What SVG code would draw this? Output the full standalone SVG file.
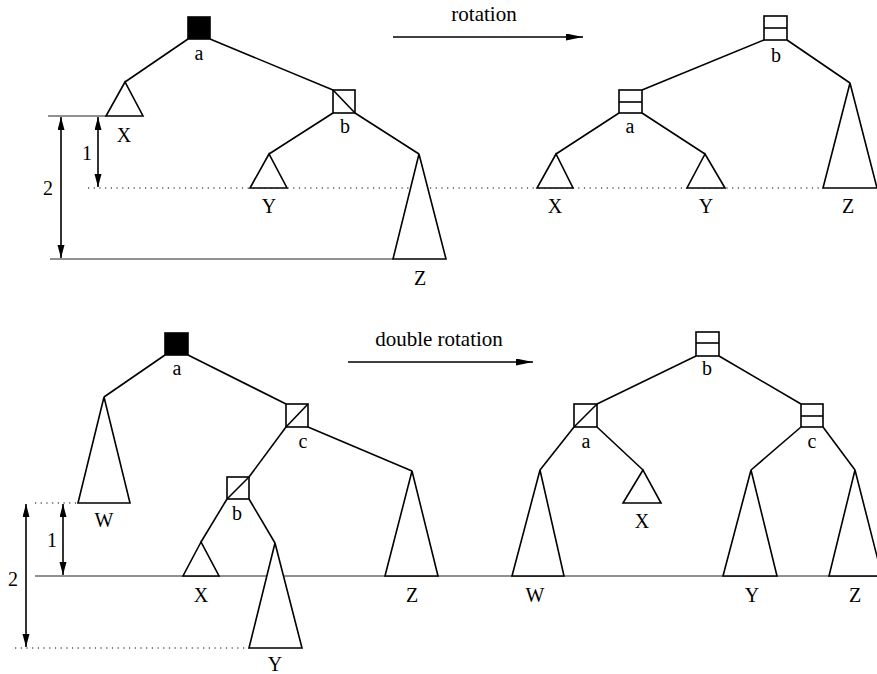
<svg xmlns="http://www.w3.org/2000/svg" width="877" height="674" viewBox="0 0 877 674">
<defs>
<style>
.e{stroke:#000;stroke-width:1.6;fill:none}
.t{fill:#fff;stroke:#000;stroke-width:1.6;stroke-linejoin:miter}
.n{fill:#fff;stroke:#000;stroke-width:1.6}
.k{fill:#000;stroke:#000;stroke-width:1.6}
.d{stroke:#000;stroke-width:1.6;fill:none}
.lbl{font-family:"Liberation Serif","Times New Roman",serif;font-size:20px;text-anchor:middle;fill:#000}
.cap{font-family:"Liberation Serif","Times New Roman",serif;font-size:21px;text-anchor:middle;fill:#000}
.dot{stroke:#000;stroke-width:1;stroke-dasharray:1.2 4.5;fill:none}
.ref{stroke:#222;stroke-width:1;fill:none}
.dim{stroke:#000;stroke-width:1.6;fill:none;marker-start:url(#dh);marker-end:url(#dh)}
.arr{stroke:#000;stroke-width:1.6;fill:none;marker-end:url(#ah)}
</style>
<marker id="dh" markerUnits="userSpaceOnUse" markerWidth="14" markerHeight="8" refX="13" refY="3.5" orient="auto-start-reverse">
<path d="M0,0 L13,3.5 L0,7 z" fill="#000"/>
</marker>
<marker id="ah" markerUnits="userSpaceOnUse" markerWidth="18" markerHeight="8" refX="17" refY="3.5" orient="auto">
<path d="M0,0 L17,3.5 L0,7 z" fill="#000"/>
</marker>
</defs>
<rect width="877" height="674" fill="#fff"/>

<g id="guides">
<line class="ref" x1="48" y1="116" x2="106" y2="116"/>
<line class="dot" x1="88" y1="188" x2="823" y2="188"/>
<line class="ref" x1="50" y1="259" x2="393" y2="259"/>
<line class="dim" x1="61" y1="117" x2="61" y2="258"/>
<line class="dim" x1="98" y1="117" x2="98" y2="187"/>
<text class="lbl" x="48" y="195">2</text>
<text class="lbl" x="87" y="160">1</text>
<line class="dot" x1="35" y1="503" x2="78" y2="503"/>
<line class="ref" x1="35" y1="576" x2="877" y2="576"/>
<line class="dot" x1="15" y1="648" x2="249" y2="648"/>
<line class="dim" x1="26" y1="504" x2="26" y2="647"/>
<line class="dim" x1="63" y1="504" x2="63" y2="575"/>
<text class="lbl" x="13" y="586">2</text>
<text class="lbl" x="52" y="547">1</text>
</g>

<g id="connectors">
<line class="e" x1="188" y1="39" x2="125" y2="82"/>
<line class="e" x1="210" y1="39" x2="333" y2="90"/>
<line class="e" x1="333" y1="113" x2="269" y2="154"/>
<line class="e" x1="355" y1="113" x2="419" y2="154"/>
<line class="e" x1="764" y1="40" x2="642" y2="90"/>
<line class="e" x1="787" y1="40" x2="850" y2="83"/>
<line class="e" x1="619" y1="113" x2="556" y2="154"/>
<line class="e" x1="642" y1="113" x2="705" y2="154"/>
<line class="arr" x1="393" y1="37" x2="583" y2="37"/>
<line class="e" x1="165" y1="355" x2="104" y2="397"/>
<line class="e" x1="188" y1="355" x2="286" y2="404"/>
<line class="e" x1="308" y1="427" x2="412" y2="471"/>
<line class="e" x1="286" y1="427" x2="249" y2="477"/>
<line class="e" x1="227" y1="499" x2="201" y2="542"/>
<line class="e" x1="249" y1="499" x2="275" y2="543"/>
<line class="e" x1="696" y1="356" x2="597" y2="404"/>
<line class="e" x1="719" y1="356" x2="801" y2="404"/>
<line class="e" x1="574" y1="427" x2="540" y2="470"/>
<line class="e" x1="597" y1="427" x2="643" y2="470"/>
<line class="e" x1="801" y1="427" x2="751" y2="470"/>
<line class="e" x1="823" y1="427" x2="855" y2="470"/>
<line class="arr" x1="348" y1="362" x2="533" y2="362"/>
</g>

<g id="captions">
<text class="cap" x="484" y="21">rotation</text>
<text class="cap" x="439" y="346">double rotation</text>
</g>

<!-- top left -->
<g id="tl-a"><rect class="k" x="188" y="17" width="22" height="22"/><text class="lbl" x="199" y="60">a</text></g>
<g id="tl-X"><polygon class="t" points="125,82 106,116 143,116"/><text class="lbl" x="124" y="142">X</text></g>
<g id="tl-b"><rect class="n" x="333" y="90" width="22" height="23"/><line class="d" x1="333" y1="90" x2="355" y2="113"/><text class="lbl" x="345" y="133">b</text></g>
<g id="tl-Y"><polygon class="t" points="269,154 250,188 287,188"/><text class="lbl" x="269" y="213">Y</text></g>
<g id="tl-Z"><polygon class="t" points="419,154 393,259 446,259"/><text class="lbl" x="420" y="285">Z</text></g>

<!-- top right -->
<g id="tr-b"><rect class="n" x="764" y="16" width="23" height="24"/><line class="d" x1="764" y1="28" x2="787" y2="28"/><text class="lbl" x="776" y="62">b</text></g>
<g id="tr-a"><rect class="n" x="619" y="90" width="23" height="23"/><line class="d" x1="619" y1="102" x2="642" y2="102"/><text class="lbl" x="630" y="133">a</text></g>
<g id="tr-X"><polygon class="t" points="556,154 537,188 573,188"/><text class="lbl" x="555" y="213">X</text></g>
<g id="tr-Y"><polygon class="t" points="705,154 687,188 725,188"/><text class="lbl" x="706" y="213">Y</text></g>
<g id="tr-Z"><polygon class="t" points="850,83 823,188 877,188"/><text class="lbl" x="848" y="213">Z</text></g>

<!-- bottom left -->
<g id="bl-a"><rect class="k" x="165" y="333" width="23" height="22"/><text class="lbl" x="177" y="375">a</text></g>
<g id="bl-W"><polygon class="t" points="104,397 78,503 130,503"/><text class="lbl" x="104" y="527">W</text></g>
<g id="bl-c"><rect class="n" x="286" y="404" width="22" height="23"/><line class="d" x1="286" y1="427" x2="308" y2="404"/><text class="lbl" x="303" y="448">c</text></g>
<g id="bl-Z"><polygon class="t" points="412,471 385,576 438,576"/><text class="lbl" x="412" y="602">Z</text></g>
<g id="bl-b"><rect class="n" x="227" y="477" width="22" height="22"/><line class="d" x1="227" y1="499" x2="249" y2="477"/><text class="lbl" x="237" y="520">b</text></g>
<g id="bl-X"><polygon class="t" points="201,542 183,576 219,576"/><text class="lbl" x="201" y="602">X</text></g>
<g id="bl-Y"><polygon class="t" points="275,543 249,648 302,648"/><text class="lbl" x="275" y="671">Y</text></g>

<!-- bottom right -->
<g id="br-b"><rect class="n" x="696" y="332" width="23" height="24"/><line class="d" x1="696" y1="343" x2="719" y2="343"/><text class="lbl" x="707" y="375">b</text></g>
<g id="br-a"><rect class="n" x="574" y="404" width="23" height="23"/><line class="d" x1="574" y1="427" x2="597" y2="404"/><text class="lbl" x="586" y="448">a</text></g>
<g id="br-c"><rect class="n" x="801" y="404" width="22" height="23"/><line class="d" x1="801" y1="416" x2="823" y2="416"/><text class="lbl" x="812" y="448">c</text></g>
<g id="br-W"><polygon class="t" points="540,470 512,576 564,576"/><text class="lbl" x="535" y="602">W</text></g>
<g id="br-X"><polygon class="t" points="643,470 623,503 661,503"/><text class="lbl" x="642" y="528">X</text></g>
<g id="br-Y"><polygon class="t" points="751,470 723,576 777,576"/><text class="lbl" x="752" y="602">Y</text></g>
<g id="br-Z"><polygon class="t" points="855,470 829,576 882,576"/><text class="lbl" x="855" y="602">Z</text></g>
</svg>
